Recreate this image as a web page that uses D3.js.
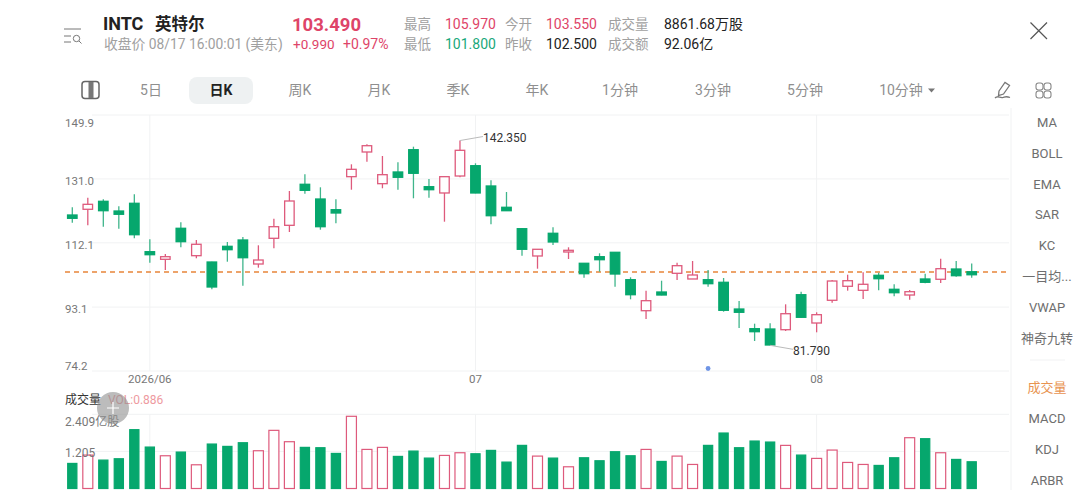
<!DOCTYPE html>
<html>
<head>
<meta charset="utf-8">
<script src="https://d3js.org/d3.v7.min.js"></script>
<style>
  html, body { margin: 0; padding: 0; background: #fff; overflow: hidden; }
  svg { display: block; }
  text { font-family: Roboto, "Noto Sans CJK SC", sans-serif; }
  .grid-line { stroke: #f1f2f3; stroke-width: 1; }
</style>
</head>
<body>
<svg id="container" width="1080" height="498"></svg>
<script>
// INTC daily candles. Red hollow is up, green solid is down
var opens = [120.33,122.02,124.38,121.51,123.79,109.48,107.23,116.40,108.30,106.43,
             111.07,112.94,105.84,113.44,117.28,129.41,125.06,121.90,131.66,138.96,
             129.59,133.05,139.64,128.70,126.84,131.86,134.91,128.91,122.61,116.28,
             108.21,114.92,109.39,106.05,108.00,109.30,101.20,92.03,97.56,103.09,
             101.41,101.20,100.43,92.53,86.71,86.62,86.41,96.76,88.39,95.11,
             99.25,98.06,102.50,98.36,96.67,101.41,101.32,104.36,103.55];
var highs = [122.61,125.45,124.97,122.90,126.45,113.14,108.80,118.17,112.94,106.52,
             112.35,113.82,111.37,119.24,127.43,132.36,128.52,124.97,135.32,141.24,
             137.78,135.91,140.53,130.98,131.66,142.35,135.62,130.59,127.13,116.40,
             110.28,116.69,110.78,106.05,109.00,109.39,101.91,97.95,100.90,106.22,
             106.73,104.07,101.70,94.90,88.19,88.31,93.92,97.65,91.56,101.11,
             102.68,103.39,103.27,99.84,98.15,102.97,107.41,106.73,105.97];
var lows = [118.05,117.28,116.87,116.28,113.44,106.22,104.07,110.78,107.53,98.36,
            106.52,99.42,104.75,110.48,115.30,126.63,115.98,117.88,127.81,136.09,
            128.23,127.81,125.27,125.45,118.35,131.48,126.75,117.58,121.51,108.30,
            104.45,111.46,107.32,101.79,103.56,99.13,95.40,89.58,96.58,101.11,
            101.41,99.13,91.74,86.92,83.07,81.79,86.03,89.96,85.64,94.40,
            97.95,95.49,98.06,96.29,95.28,100.13,100.22,102.09,101.80];
var closes = [119.35,123.49,121.60,120.54,114.50,108.59,108.00,112.44,111.67,99.04,
              110.07,107.70,107.02,116.87,124.47,127.63,116.87,120.92,133.84,140.82,
              132.25,131.48,132.66,127.81,131.66,139.46,126.84,120.12,121.60,110.19,
              110.19,112.35,109.89,102.97,107.11,102.88,96.76,94.99,96.67,105.34,
              102.59,100.02,92.15,91.56,85.82,81.89,91.14,90.08,90.85,100.81,
              100.90,99.84,101.49,97.35,97.65,100.43,104.45,102.38,102.66];
var volumes = [0.814,1.085,0.922,0.966,1.910,1.345,1.063,1.183,0.770,1.443,
               1.367,1.486,1.226,1.888,1.519,1.335,1.324,1.139,2.344,1.269,
               1.335,1.042,1.215,0.987,1.074,1.161,1.128,1.237,0.857,1.400,
               1.052,0.987,0.705,0.998,0.901,1.194,1.063,1.269,0.879,1.052,
               0.781,1.400,1.801,1.324,1.541,1.508,1.400,1.085,0.977,1.248,
               0.846,0.781,0.749,0.998,1.649,1.617,1.161,0.944,0.868];

var priceTicks = [149.9, 131.0, 112.1, 93.1, 74.2];
var volumeTicks = [2.409, 1.205];
var dateTickIndex = [5, 26, 48];
var dateTickLabels = ["2026/06", "07", "08"];
var lastPrice = 103.49, highMark = 142.35, lowMark = 81.79;
var highIndex = 25, lowIndex = 45, markerIndex = 41;

var periods = ["5日", "日K", "周K", "月K", "季K", "年K", "1分钟", "3分钟", "5分钟", "10分钟"];
var periodX = [151, 221, 300, 379, 458, 537, 620, 713, 805, 901];
var indicators = ["MA", "BOLL", "EMA", "SAR", "KC", "一目均...", "VWAP", "神奇九转", "成交量", "MACD", "KDJ", "ARBR"];
var indicatorY = [122, 153, 184, 214, 245, 276, 307, 338, 387, 418, 449, 480];

var red = "#de5a7c", green = "#06a76d", textRed = "#de4468", grey = "#a0a0a0";

var svg = d3.select("#container");

var x = d3.scalePoint().domain(d3.range(opens.length)).range([72.3, 971.7]);
var yPrice = d3.scaleLinear().domain([74.2, 149.9]).range([371, 115]);
var yVol = d3.scaleLinear().domain([0, 2.409]).range([488.5, 414.3]);
var barWidth = 9.5;

function label(t, px, py, size, color, weight, anchor) {
  return svg.append("text")
            .attr("x", px)
            .attr("y", py)
            .attr("dy", "0.36em")
            .attr("font-size", size)
            .attr("fill", color)
            .attr("font-weight", weight || 400)
            .attr("text-anchor", anchor || "start")
            .text(t);
}

// Header
label("INTC", 103, 24, 18, "#222", 700);
label("英特尔", 155, 24, 16.5, "#222", 700);
label("103.490", 292, 24, 18.5, textRed, 700);
label("收盘价 08/17 16:00:01 (美东)", 104, 44, 13.8, grey);
label("+0.990", 293, 44, 13.5, textRed);
label("+0.97%", 343, 44, 14, textRed);

label("最高", 404, 24, 13.5, grey);
label("105.970", 445, 24, 14, textRed);
label("今开", 505, 24, 13.5, grey);
label("103.550", 546, 24, 14, textRed);
label("成交量", 608, 24, 13.5, grey);
label("8861.68万股", 664, 24, 14, "#222");
label("最低", 404, 44, 13.5, grey);
label("101.800", 445, 44, 14, "#19a87a");
label("昨收", 505, 44, 13.5, grey);
label("102.500", 546, 44, 14, "#222");
label("成交额", 608, 44, 13.5, grey);
label("92.06亿", 664, 44, 14, "#222");

// Menu and close icons
svg.append("path").attr("d", "M64 29H81M64 36H71M64 42H71")
   .attr("stroke", "#777").attr("stroke-width", 1).attr("fill", "none");
svg.append("circle").attr("cx", 76.5).attr("cy", 38.5).attr("r", 3.2)
   .attr("stroke", "#777").attr("stroke-width", 1).attr("fill", "none");
svg.append("path").attr("d", "M79 41L81.5 43.5")
   .attr("stroke", "#777").attr("stroke-width", 1);
svg.append("path").attr("d", "M1030.5 22.5L1047 39M1047 22.5L1030.5 39")
   .attr("stroke", "#555").attr("stroke-width", 1.2).attr("fill", "none");

// Period tabs
svg.append("rect").attr("x", 189).attr("y", 77).attr("width", 64).attr("height", 27)
   .attr("rx", 8).attr("fill", "#eef1f2");
periods.forEach(function (p, i) {
  label(p, periodX[i], 90, 14, p === "日K" ? "#222" : "#8f8f8f", p === "日K" ? 700 : 400, "middle");
});
svg.append("path").attr("d", "M928 88.5H935L931.5 92.5Z").attr("fill", "#777");

// Split view icon, pencil, grid
svg.append("rect").attr("x", 82).attr("y", 81.5).attr("width", 17).attr("height", 17).attr("rx", 3)
   .attr("stroke", "#666").attr("stroke-width", 1.5).attr("fill", "#fff");
svg.append("rect").attr("x", 88.5).attr("y", 82).attr("width", 5).attr("height", 16).attr("fill", "#777");
svg.append("path")
   .attr("d", "M999 91L1005 82.5L1009.5 85.5L1003.5 94L998.5 95.5ZM995 98C998 95 1000 98.5 1003 97.5S1006 96 1010 97.5")
   .attr("stroke", "#777").attr("stroke-width", 1.3).attr("fill", "none");
[[1039.5, 86.5], [1047.5, 86.5], [1039.5, 94.5], [1047.5, 94.5]].forEach(function (c) {
  svg.append("rect").attr("x", c[0] - 3.5).attr("y", c[1] - 3.5).attr("width", 7).attr("height", 7)
     .attr("rx", 2.5).attr("stroke", "#888").attr("stroke-width", 1.1).attr("fill", "none");
});

// Grid
svg.append("g").selectAll("line").data(priceTicks).join("line")
   .attr("class", "grid-line")
   .attr("x1", 92).attr("x2", 1009)
   .attr("y1", function (d) { return yPrice(d); })
   .attr("y2", function (d) { return yPrice(d); });
svg.append("g").selectAll("line").data(volumeTicks).join("line")
   .attr("class", "grid-line")
   .attr("x1", 92).attr("x2", 1009)
   .attr("y1", function (d) { return yVol(d); })
   .attr("y2", function (d) { return yVol(d); });
svg.append("g").selectAll("line").data(dateTickIndex).join("line")
   .attr("class", "grid-line")
   .attr("x1", function (d) { return x(d); })
   .attr("x2", function (d) { return x(d); })
   .attr("y1", yPrice(149.9)).attr("y2", yPrice(74.2));
svg.append("g").selectAll("line").data(dateTickIndex).join("line")
   .attr("class", "grid-line")
   .attr("x1", function (d) { return x(d); })
   .attr("x2", function (d) { return x(d); })
   .attr("y1", yVol(2.409)).attr("y2", yVol(0));
svg.append("line").attr("class", "grid-line")
   .attr("x1", 1011).attr("x2", 1011).attr("y1", 108).attr("y2", 490);
svg.append("line").attr("class", "grid-line")
   .attr("x1", 1030).attr("x2", 1065).attr("y1", 360).attr("y2", 360);

// Price axis labels sit just inside the gridlines
var priceLabelY = [123, 181, 245, 309, 366];
priceTicks.forEach(function (t, i) {
  label(t.toFixed(1), 65, priceLabelY[i], 11.5, "#777");
});
dateTickIndex.forEach(function (d, i) {
  label(dateTickLabels[i], x(d), 379, 11.5, "#777", 400, "middle");
});

// Last price line
svg.append("line")
   .attr("x1", 65).attr("x2", 1009)
   .attr("y1", yPrice(lastPrice)).attr("y2", yPrice(lastPrice))
   .attr("stroke", "#e8853a").attr("stroke-width", 1.5)
   .attr("stroke-dasharray", "5,4");

// Candles
var candles = svg.append("g").selectAll("g").data(d3.range(opens.length)).join("g");
function isUp(i) { return closes[i] >= opens[i]; }

candles.append("line")
       .attr("x1", function (i) { return x(i); })
       .attr("x2", function (i) { return x(i); })
       .attr("y1", function (i) { return yPrice(highs[i]); })
       .attr("y2", function (i) { return yPrice(lows[i]); })
       .attr("stroke", function (i) { return isUp(i) ? red : "#3fb58b"; })
       .attr("stroke-width", 1.3);
candles.append("rect")
       .attr("x", function (i) { return x(i) - barWidth / 2; })
       .attr("y", function (i) { return yPrice(Math.max(opens[i], closes[i])); })
       .attr("width", barWidth)
       .attr("height", function (i) { return Math.abs(yPrice(opens[i]) - yPrice(closes[i])); })
       .attr("fill", function (i) { return isUp(i) ? "#fff" : green; })
       .attr("stroke", function (i) { return isUp(i) ? red : green; })
       .attr("stroke-width", 1.3);

// High and low callouts
svg.append("line")
   .attr("x1", x(highIndex)).attr("y1", yPrice(highMark))
   .attr("x2", x(highIndex) + 23).attr("y2", yPrice(highMark) - 4)
   .attr("stroke", "#bbb").attr("stroke-width", 1);
label("142.350", x(highIndex) + 23, yPrice(highMark) - 3, 12, "#333");
svg.append("line")
   .attr("x1", x(lowIndex)).attr("y1", yPrice(lowMark))
   .attr("x2", x(lowIndex) + 23).attr("y2", yPrice(lowMark) + 4)
   .attr("stroke", "#bbb").attr("stroke-width", 1);
label("81.790", x(lowIndex) + 23, yPrice(lowMark) + 5, 12, "#333");

// Event marker
svg.append("circle")
   .attr("cx", x(markerIndex)).attr("cy", 368.5).attr("r", 2.4)
   .attr("fill", "#6f95e6");

// Volume bars: hollow ones come out a little wider than the solid ones
svg.append("g").selectAll("rect").data(d3.range(volumes.length)).join("rect")
   .attr("x", function (i) { return x(i) - (isUp(i) ? 5 : 4.6); })
   .attr("y", function (i) { return yVol(volumes[i]); })
   .attr("width", function (i) { return isUp(i) ? 10 : 9.2; })
   .attr("height", function (i) { return yVol(0) - yVol(volumes[i]); })
   .attr("fill", function (i) { return isUp(i) ? "#fff" : green; })
   .attr("stroke", function (i) { return isUp(i) ? red : green; })
   .attr("stroke-width", 1.2);

label("成交量", 65, 400, 12, "#333");
label("VOL:0.886", 108, 400, 12, "#ee9aa0");
label("2.409亿股", 65, 422, 12, "#777");
label("1.205", 65, 453, 12, "#777");

// Floating add button
svg.append("circle").attr("cx", 113).attr("cy", 408).attr("r", 16)
   .attr("fill", "#8f8f8f").attr("fill-opacity", 0.6);
svg.append("path").attr("d", "M107 408H119M113 402V414")
   .attr("stroke", "#fff").attr("stroke-width", 1.2);

// Indicator column
indicators.forEach(function (t, i) {
  label(t, 1047, indicatorY[i], 13, t === "成交量" ? "#e8934f" : "#6e6e6e", 400, "middle");
});
</script>
</body>
</html>
